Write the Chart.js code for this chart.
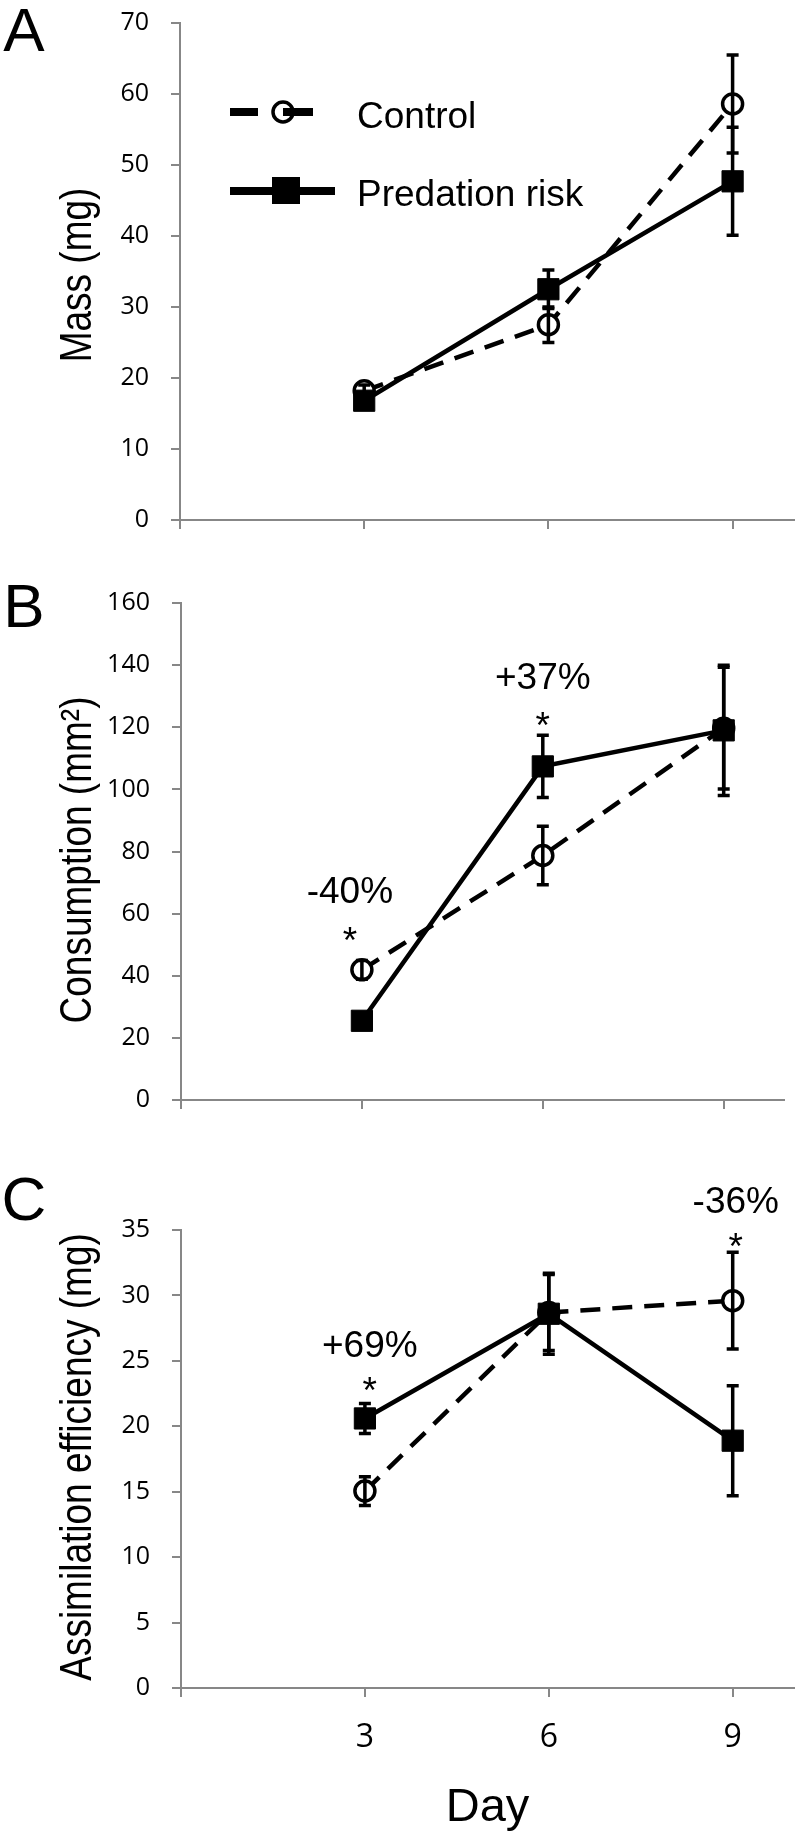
<!DOCTYPE html>
<html>
<head>
<meta charset="utf-8">
<script src="https://cdn.jsdelivr.net/npm/chart.js@4/dist/chart.umd.min.js"></script>
<style>
  body { margin: 0; background: #fff; }
  .panel { position: absolute; left: 0; width: 810px; }
</style>
</head>
<body>
<div class="panel" style="top:0;height:560px"><canvas id="chart-a"></canvas></div>
<div class="panel" style="top:560px;height:580px"><canvas id="chart-b"></canvas></div>
<div class="panel" style="top:1140px;height:700px"><canvas id="chart-c"></canvas></div>
<script>
// data
var days = [3, 6, 9];
var dayTicks = [0, 3, 6, 9];

var massTicks = [0, 10, 20, 30, 40, 50, 60, 70];
var massControl = [18.2, 27.5, 58.6];
var massControlErr = [0.8, 2.5, 6.9];
var massPredation = [16.8, 32.5, 47.7];
var massPredationErr = [0.7, 2.7, 7.6];

var consTicks = [0, 20, 40, 60, 80, 100, 120, 140, 160];
var consControl = [41.9, 78.7, 119.7];
var consControlErr = [3.0, 9.4, 19.6];
var consPredation = [25.5, 107.4, 119.0];
var consPredationErr = [2.0, 10.0, 21.0];

var assimTicks = [0, 5, 10, 15, 20, 25, 30, 35];
var assimControl = [15.05, 28.7, 29.6];
var assimControlErr = [1.1, 2.9, 3.7];
var assimPredation = [20.6, 28.6, 18.9];
var assimPredationErr = [1.15, 3.1, 4.2];

// significance notes: label, day, value of label centre, value of star centre
var consNoteText = ["-40%", "+37%"];
var consNoteDay = [2.8, 6.0];
var consNoteLevel = [66.8, 135.5];
var consStarLevel = [54.2, 123.2];

var assimNoteText = ["+69%", "-36%"];
var assimNoteDay = [3.08, 9.05];
var assimNoteLevel = [26.1, 37.1];
var assimStarLevel = [23.4, 34.4];

var SANS = '"Liberation Sans", Arial, sans-serif';
var TICKS = '"Open Sans", sans-serif';
var AXIS = '#878787';

function points(values) {
  return days.map(function (d, i) { return { x: d, y: values[i] }; });
}

//error bars drawn on top of the markers
var errorBars = {
  id: 'errorBars',
  afterDatasetsDraw: function (chart) {
    var ctx = chart.ctx, xs = chart.scales.x, ys = chart.scales.y;
    ctx.save();
    ctx.setLineDash([]);
    ctx.strokeStyle = '#000';
    ctx.lineWidth = 3.5;
    chart.data.datasets.forEach(function (ds) {
      ds.data.forEach(function (p, i) {
        var x = xs.getPixelForValue(p.x);
        var top = ys.getPixelForValue(p.y + ds.errors[i]);
        var bot = ys.getPixelForValue(p.y - ds.errors[i]);
        ctx.beginPath();
        ctx.moveTo(x, top); ctx.lineTo(x, bot);
        ctx.moveTo(x - 6, top); ctx.lineTo(x + 6, top);
        ctx.moveTo(x - 6, bot); ctx.lineTo(x + 6, bot);
        ctx.stroke();
      });
    });
    ctx.restore();
  }
};

//letters, rotated titles, notes and the legend
var panelText = {
  id: 'panelText',
  afterDraw: function (chart, args, opts) {
    var ctx = chart.ctx, xs = chart.scales.x, ys = chart.scales.y;
    ctx.save();
    ctx.fillStyle = '#000';
    ctx.textAlign = 'center';
    ctx.textBaseline = 'middle';
    ctx.font = '62px ' + SANS;
    ctx.fillText(opts.letter, 24, opts.letterY);

    ctx.save();
    ctx.translate(79, opts.titleY);
    ctx.rotate(-Math.PI / 2);
    ctx.scale(1, 1.18);
    ctx.font = '37px ' + SANS;
    ctx.fillText(opts.title, 0, 0);
    ctx.restore();

    (opts.noteText || []).forEach(function (t, i) {
      var x = xs.getPixelForValue(opts.noteDay[i]);
      ctx.font = '37px ' + SANS;
      ctx.textBaseline = 'middle';
      ctx.fillText(t, x, ys.getPixelForValue(opts.noteLevel[i]));
      ctx.textBaseline = 'alphabetic';
      ctx.fillText('*', x, ys.getPixelForValue(opts.starLevel[i]) + 21);
    });

    if (opts.legend) {
      ctx.strokeStyle = '#000';
      ctx.lineWidth = 8;
      ctx.beginPath();
      ctx.moveTo(230, 112); ctx.lineTo(258, 112);
      ctx.stroke();
      ctx.lineWidth = 3.5;
      ctx.fillStyle = '#fff';
      ctx.beginPath();
      ctx.arc(283, 112, 10, 0, Math.PI * 2);
      ctx.fill();
      ctx.stroke();
      ctx.lineWidth = 8;
      ctx.beginPath();
      ctx.moveTo(283, 112); ctx.lineTo(313, 112);
      ctx.stroke();
      ctx.beginPath();
      ctx.moveTo(230, 191); ctx.lineTo(335, 191);
      ctx.stroke();
      ctx.fillStyle = '#000';
      ctx.fillRect(272, 177, 28, 27);
      ctx.font = '37px ' + SANS;
      ctx.textAlign = 'left';
      ctx.textBaseline = 'middle';
      ctx.fillText(chart.data.datasets[0].label, 357, 118);
      ctx.fillText(chart.data.datasets[1].label, 357, 196);
    }
    ctx.restore();
  }
};

function makePanel(id, p) {
  return new Chart(document.getElementById(id), {
    type: 'line',
    data: {
      datasets: [{
        label: 'Control',
        data: points(p.control),
        errors: p.controlErr,
        borderColor: '#000',
        borderWidth: 4.5,
        borderDash: [20, 12],
        pointStyle: 'circle',
        pointRadius: 10,
        pointBorderWidth: 3.5,
        pointBackgroundColor: '#fff',
        pointBorderColor: '#000',
        order: 1
      }, {
        label: 'Predation risk',
        data: points(p.predation),
        errors: p.predationErr,
        borderColor: '#000',
        borderWidth: 4.5,
        pointStyle: 'rect',
        pointRadius: 15,
        pointBorderWidth: 1,
        pointBackgroundColor: '#000',
        pointBorderColor: '#000',
        order: 0
      }]
    },
    options: {
      responsive: true,
      maintainAspectRatio: false,
      animation: false,
      layout: { padding: { top: p.top, right: p.right, left: 0, bottom: 0 } },
      plugins: {
        legend: { display: false },
        tooltip: { enabled: false },
        panelText: p.text
      },
      scales: {
        x: {
          type: 'linear',
          min: 0,
          max: 10,
          afterBuildTicks: function (s) { s.ticks = dayTicks.map(function (v) { return { value: v }; }); },
          afterFit: function (s) {
            s.height = p.bottom;
            s.paddingLeft = 0;
            s.paddingRight = 0;
          },
          ticks: {
            autoSkip: false,
            maxRotation: 0,
            padding: 22,
            color: '#000',
            font: { family: TICKS, size: 32 },
            callback: function (v) { return p.dayLabels && v > 0 ? v : ''; }
          },
          grid: { drawOnChartArea: false, tickLength: 9, color: AXIS, lineWidth: 2 },
          border: { color: AXIS, width: 2 },
          title: {
            display: !!p.dayLabels,
            text: 'Day',
            color: '#000',
            font: { family: SANS, size: 47 },
            padding: { top: 0, bottom: 4 }
          }
        },
        y: {
          min: p.ticks[0],
          max: p.ticks[p.ticks.length - 1],
          afterBuildTicks: function (s) { s.ticks = p.ticks.map(function (v) { return { value: v }; }); },
          afterFit: function (s) {
            s.width = p.left;
            s.paddingTop = 0;
            s.paddingBottom = 0;
          },
          ticks: { padding: 22, color: '#000', font: { family: TICKS, size: 25 } },
          grid: { drawOnChartArea: false, tickLength: 9, color: AXIS, lineWidth: 2 },
          border: { color: AXIS, width: 2 }
        }
      }
    },
    plugins: [errorBars, panelText]
  });
}

makePanel('chart-a', {
  control: massControl, controlErr: massControlErr,
  predation: massPredation, predationErr: massPredationErr,
  ticks: massTicks,
  top: 23, bottom: 40, left: 180, right: 10,
  text: { letter: 'A', letterY: 34, title: 'Mass (mg)', titleY: 275, legend: true }
});

makePanel('chart-b', {
  control: consControl, controlErr: consControlErr,
  predation: consPredation, predationErr: consPredationErr,
  ticks: consTicks,
  top: 43, bottom: 40, left: 181, right: 26,
  text: {
    letter: 'B', letterY: 50, title: 'Consumption (mm\u00b2)', titleY: 300,
    noteText: consNoteText, noteDay: consNoteDay, noteLevel: consNoteLevel, starLevel: consStarLevel
  }
});

makePanel('chart-c', {
  control: assimControl, controlErr: assimControlErr,
  predation: assimPredation, predationErr: assimPredationErr,
  ticks: assimTicks,
  top: 90, bottom: 152, left: 181, right: 10,
  dayLabels: true,
  text: {
    letter: 'C', letterY: 63, title: 'Assimilation efficiency (mg)', titleY: 317,
    noteText: assimNoteText, noteDay: assimNoteDay, noteLevel: assimNoteLevel, starLevel: assimStarLevel
  }
});
</script>
</body>
</html>
